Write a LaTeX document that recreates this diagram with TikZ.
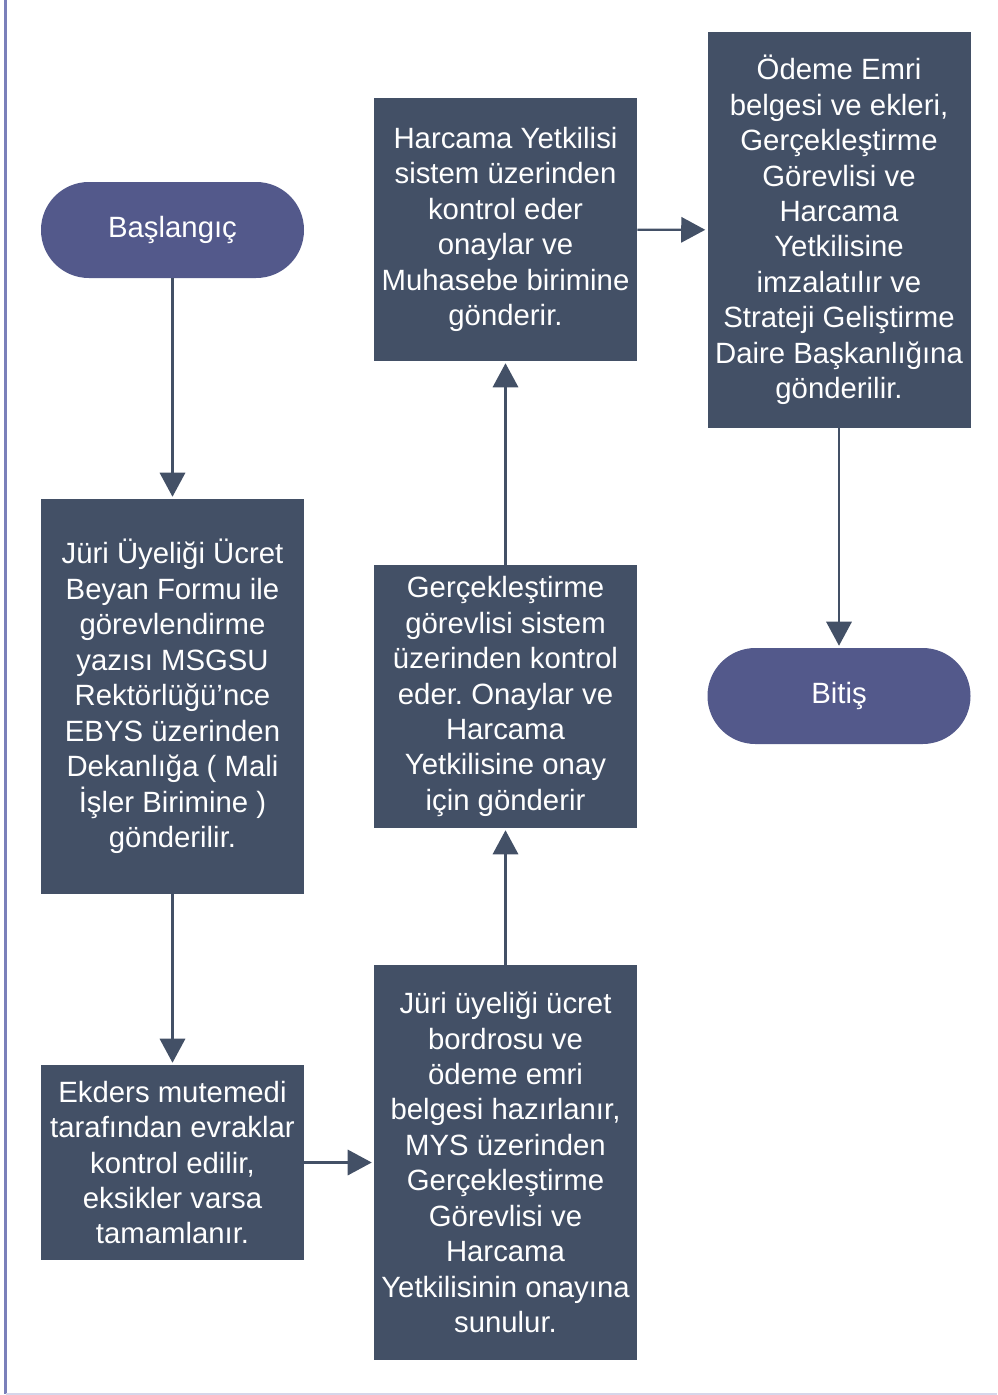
\documentclass[tikz,border=0pt]{standalone}
\usepackage{fontspec}
\setmainfont{Liberation Sans}
\usetikzlibrary{arrows.meta}
\frenchspacing

\definecolor{kutu}{RGB}{67,80,102}
\definecolor{uc}{RGB}{83,89,139}
\definecolor{kenar}{RGB}{122,128,186}
\definecolor{altkenar}{RGB}{214,214,234}

\begin{document}
\begin{tikzpicture}[x=0.75pt,y=0.75pt,yscale=-1,xscale=1,
  adim/.style={fill=kutu,text=white,align=center,inner sep=0pt,
    minimum width=197.25pt,font=\fontsize{22}{26.6}\selectfont},
  baslabit/.style={fill=uc,text=white,align=center,inner sep=0pt,rounded corners=35.9pt,
    minimum width=197.25pt,minimum height=72pt,font=\fontsize{22}{26.6}\selectfont},
  ok/.style={draw=kutu,line width=1.6pt,-{Triangle[length=18pt,width=19pt]},shorten >=1.5pt}]
\useasboundingbox (0,0) rectangle (997,1395);

%Frame
\draw [kenar, line width=2.2pt] (5.5,0) -- (5.5,1394) ;
\draw [altkenar, line width=1pt] (5.5,1394) -- (997,1394) ;

%Shape: Terminal
\draw (172.5,230) node [baslabit] (basla) {Başlangıç};
% Text Node
\draw (172.5,696.5) node [adim, minimum height=296.25pt] (beyan) {Jüri Üyeliği Ücret\\Beyan Formu ile\\görevlendirme\\yazısı MSGSU\\Rektörlüğü’nce\\EBYS üzerinden\\Dekanlığa ( Mali\\İşler Birimine )\\gönderilir.};
% Text Node
\draw (172.5,1162.5) node [adim, minimum height=146.25pt] (ekders) {Ekders mutemedi\\tarafından evraklar\\kontrol edilir,\\eksikler varsa\\tamamlanır.};
% Text Node
\draw (505.5,1162.5) node [adim, minimum height=296.25pt] (bordro) {Jüri üyeliği ücret\\bordrosu ve\\ödeme emri\\belgesi hazırlanır,\\MYS üzerinden\\Gerçekleştirme\\Görevlisi ve\\Harcama\\Yetkilisinin onayına\\sunulur.};
% Text Node
\draw (505.5,696.5) node [adim, minimum height=197.25pt] (gercek) {Gerçekleştirme\\görevlisi sistem\\üzerinden kontrol\\eder. Onaylar ve\\Harcama\\Yetkilisine onay\\için gönderir};
% Text Node
\draw (505.5,229.5) node [adim, minimum height=197.25pt] (harcama) {Harcama Yetkilisi\\sistem üzerinden\\kontrol eder\\onaylar ve\\Muhasebe birimine\\gönderir.};
% Text Node
\draw (839,230) node [adim, minimum height=297pt] (odeme) {Ödeme Emri\\belgesi ve ekleri,\\Gerçekleştirme\\Görevlisi ve\\Harcama\\Yetkilisine\\imzalatılır ve\\Strateji Geliştirme\\Daire Başkanlığına\\gönderilir.};
%Shape: Terminal
\draw (839,696) node [baslabit] (bitis) {Bitiş};

%Straight Lines
\draw [ok] (basla) -- (beyan) ;
\draw [ok] (beyan) -- (ekders) ;
\draw [ok] (ekders) -- (bordro) ;
\draw [ok] (bordro) -- (gercek) ;
\draw [ok] (gercek) -- (harcama) ;
\draw [ok] (harcama) -- (odeme) ;
\draw [ok] (odeme) -- (bitis) ;

\end{tikzpicture}
\end{document}
